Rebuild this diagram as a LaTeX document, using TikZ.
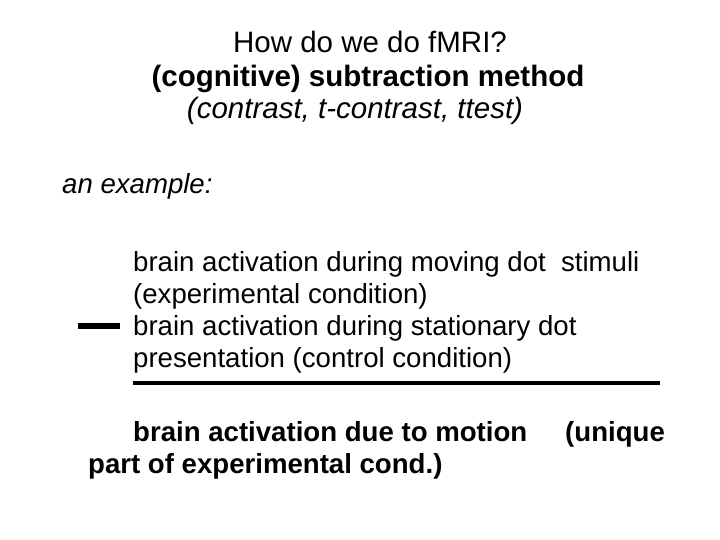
\documentclass[tikz,border=0pt]{standalone}
\usepackage{fontspec}
\setmainfont{Liberation Sans}
\begin{document}
\begin{tikzpicture}[x=1pt,y=-1pt,
  txt/.style={inner sep=0pt,anchor=base west,font=\fontsize{27.6}{32}\selectfont},
  ttl/.style={inner sep=0pt,anchor=base,font=\fontsize{29.5}{34}\selectfont}]
\useasboundingbox (0,0) rectangle (720,540);
\node[ttl] (t1) at (370,53) {How do we do fMRI?};
\node[ttl,font=\fontsize{29.5}{34}\selectfont\bfseries] (t2) at (368,87) {(cognitive) subtraction method};
\node[ttl,font=\fontsize{29.5}{34}\selectfont\itshape] (t3) at (355,119) {(contrast, t-contrast, ttest)};
\node[txt,font=\fontsize{27.6}{32}\selectfont\itshape] (ex) at (62,194) {an example:};
\node[txt] (a1) at (133,271) {brain activation during moving dot\ \ stimuli};
\node[txt] (a2) at (133,303) {(experimental condition)};
\node[txt] (b1) at (133,335) {brain activation during stationary dot};
\node[txt] (b2) at (133,367) {presentation (control condition)};
\coordinate (m1) at (78,326); \coordinate (m2) at (120,326);
\draw[line width=6pt] (m1) -- (m2);
\coordinate (l1) at (133,383); \coordinate (l2) at (660,383);
\draw[line width=3.5pt] (l1) -- (l2);
\node[txt,font=\fontsize{27.6}{32}\selectfont\bfseries] (r1) at (133,441) {brain activation due to motion};
\node[txt,font=\fontsize{27.6}{32}\selectfont\bfseries] (r2) at (565,441) {(unique};
\node[txt,font=\fontsize{27.6}{32}\selectfont\bfseries] (r3) at (88,473) {part of experimental cond.)};
\end{tikzpicture}
\end{document}
